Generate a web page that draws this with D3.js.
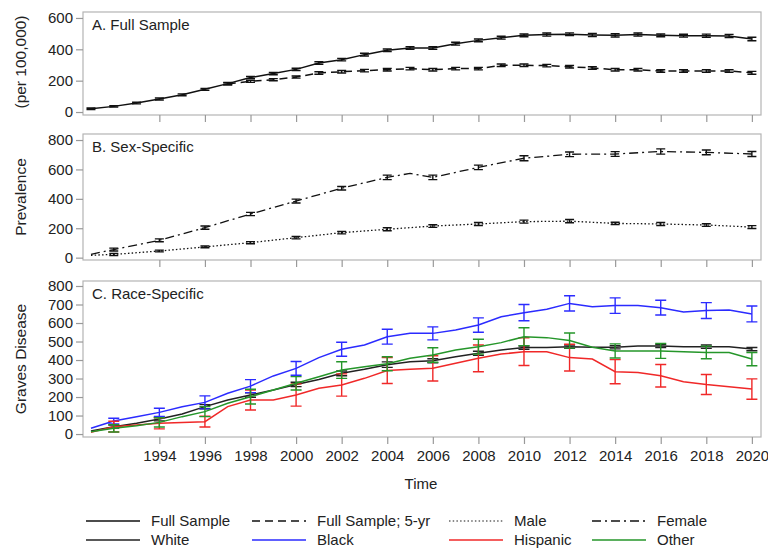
<!DOCTYPE html>
<html>
<head>
<meta charset="utf-8">
<script src="https://cdn.jsdelivr.net/npm/d3@7"></script>
<style>
  body { margin: 0; background: #fff; }
  svg { font-family: "Liberation Sans", Arial, sans-serif; }
</style>
</head>
<body>
<div id="chart"></div>
<script>
// Years (yearly points)
const years = [1991, 1992, 1993, 1994, 1995, 1996, 1997, 1998, 1999, 2000,
               2001, 2002, 2003, 2004, 2005, 2006, 2007, 2008, 2009, 2010,
               2011, 2012, 2013, 2014, 2015, 2016, 2017, 2018, 2019, 2020];
const xTicks = [1994, 1996, 1998, 2000, 2002, 2004, 2006, 2008, 2010, 2012, 2014, 2016, 2018, 2020];

// Panel A: full sample
const fullSample = [21, 36, 57, 83, 110, 145, 181, 220, 245, 272,
                    313, 334, 366, 394, 408, 408, 436, 457, 474, 489,
                    494, 496, 491, 489, 494, 489, 487, 487, 485, 466];
const fullSampleErr = [5, 5, 5, 6, 6, 6, 7, 7, 7, 7,
                       8, 8, 9, 8, 8, 8, 9, 9, 9, 9,
                       10, 9, 10, 10, 10, 9, 9, 10, 10, 11];
const fullSample5yr = [null, null, null, null, null, null, 180, 196, 206, 223,
                       249, 257, 264, 270, 277, 270, 277, 277, 298, 298,
                       296, 289, 281, 270, 270, 262, 262, 262, 262, 250];
const fullSample5yrErr = [null, null, null, null, null, null, 6, 7, 7, 7,
                          8, 8, 8, 8, 8, 8, 8, 8, 8, 8,
                          8, 8, 8, 8, 8, 8, 8, 8, 8, 9];

// Panel B: sex-specific
const female = [23, 55, null, 118, null, 204, null, 297, null, 385,
                null, 472, null, 546, 573, 546, null, 614, null, 676,
                null, 703, null, 705, null, 722, null, 716, null, 705];
const femaleErr = [null, 10, null, 10, null, 11, null, 11, null, 13,
                   null, 12, null, 15, null, 15, null, 15, null, 17,
                   null, 16, null, 16, null, 18, null, 16, null, 17];
const male = [16, 22, null, 45, null, 73, null, 102, null, 136,
              null, 170, null, 193, null, 215, null, 229, null, 245,
              null, 248, null, 233, null, 229, null, 222, null, 208];
const maleErr = [null, 7, null, 6, null, 6, null, 7, null, 8,
                 null, 8, null, 10, null, 9, null, 10, null, 10,
                 null, 11, null, 8, null, 10, null, 9, null, 10];

// Panel C: race-specific
const white = [16, 40, 58, 81, 108, 148, 184, 211, 238, 268,
               295, 328, 350, 375, 391, 396, 418, 436, 454, 467,
               467, 472, 469, 469, 476, 476, 472, 472, 472, 459];
const whiteErr = [null, 8, null, 10, null, 11, null, 12, null, 12,
                  null, 13, null, 15, null, 11, null, 11, null, 9,
                  null, 9, null, 9, null, 8, null, 9, null, 9];
const black = [31, 70, 94, 117, 148, 171, 220, 259, 314, 355,
               413, 458, 481, 526, 544, 544, 562, 589, 634, 656,
               674, 706, 688, 694, 694, 683, 659, 667, 670, 649];
const blackErr = [null, 15, null, 22, null, 35, null, 35, null, 37,
                  null, 38, null, 40, null, 35, null, 39, null, 44,
                  null, 41, null, 42, null, 40, null, 43, null, 43];
const hispanic = [9, 40, 49, 58, 63, 67, 148, 184, 184, 211,
                  247, 265, 301, 343, 350, 355, 382, 409, 432, 445,
                  445, 413, 405, 337, 332, 315, 283, 268, 256, 243];
const hispanicErr = [null, 29, null, 30, null, 29, null, 54, null, 60,
                     null, 60, null, 70, null, 68, null, 72, null, 75,
                     null, 72, null, 65, null, 61, null, 54, null, 55];
const other = [13, 31, 45, 63, 94, 121, 166, 202, 238, 274,
               310, 346, 364, 380, 409, 427, 454, 472, 494, 526,
               521, 505, 469, 449, 449, 449, 445, 441, 441, 405];
const otherErr = [null, 20, null, 25, null, 27, null, 40, null, 36,
                  null, 45, null, 38, null, 39, null, 40, null, 48,
                  null, 41, null, 38, null, 40, null, 34, null, 36];

const W = 768, H = 548;
const svg = d3.select("#chart").append("svg")
    .attr("width", W)
    .attr("height", H);

const x = d3.scaleLinear().domain([1990.65, 2020.4]).range([83, 761]);

// panel definitions
const panels = [
  {label: "A. Full Sample", top: 12, bottom: 115, domain: [-19, 638], ticks: [0, 200, 400, 600]},
  {label: "B. Sex-Specific", top: 134, bottom: 260, domain: [-16, 841], ticks: [0, 200, 400, 600, 800]},
  {label: "C. Race-Specific", top: 281, bottom: 437, domain: [-16, 827], ticks: [0, 100, 200, 300, 400, 500, 600, 700, 800]}
];

panels.forEach(p => {
  p.y = d3.scaleLinear().domain(p.domain).range([p.bottom, p.top]);

  // frame
  svg.append("rect")
      .attr("x", x.range()[0]).attr("y", p.top)
      .attr("width", x.range()[1] - x.range()[0])
      .attr("height", p.bottom - p.top)
      .attr("fill", "none")
      .attr("stroke", "#b4b4b4")
      .attr("stroke-width", 1.2);

  // y axis
  const gy = svg.append("g")
      .attr("transform", `translate(${x.range()[0]},0)`)
      .call(d3.axisLeft(p.y).tickValues(p.ticks).tickSize(7).tickPadding(3));
  gy.select(".domain").remove();
  gy.selectAll("line").attr("stroke", "#999").attr("stroke-width", 1.2);
  gy.selectAll("text").attr("fill", "#222").style("font-size", "15px");

  // x axis ticks
  const gx = svg.append("g")
      .attr("transform", `translate(0,${p.bottom})`)
      .call(d3.axisBottom(x).tickValues(xTicks).tickSize(7).tickPadding(6).tickFormat(d3.format("d")));
  gx.select(".domain").remove();
  gx.selectAll("line").attr("stroke", "#999").attr("stroke-width", 1.2);
  gx.selectAll("text").attr("fill", "#222").style("font-size", "15px");
  if (p.label[0] !== "C") gx.selectAll("text").remove();

  // panel label
  svg.append("text")
      .attr("x", 92).attr("y", p.top + 18)
      .attr("fill", "#222")
      .style("font-size", "15px")
      .text(p.label);
});

function points(vals, errs) {
  return years.map((yr, i) => ({yr, v: vals[i], e: errs ? errs[i] : null}))
      .filter(d => d.v != null);
}

function drawSeries(panel, vals, errs, color, dash, capW, sw) {
  const y = panel.y;
  const pts = points(vals, errs);
  const line = d3.line().x(d => x(d.yr)).y(d => y(d.v));
  svg.append("path")
      .datum(pts)
      .attr("d", line)
      .attr("fill", "none")
      .attr("stroke", color)
      .attr("stroke-width", sw)
      .attr("stroke-dasharray", dash);

  const eb = pts.filter(d => d.e != null);
  svg.append("g").selectAll("path")
      .data(eb)
      .join("path")
      .attr("d", d => {
        const cx = x(d.yr), y0 = y(d.v - d.e), y1 = y(d.v + d.e);
        return `M${cx},${y0}V${y1}M${cx - capW},${y0}H${cx + capW}M${cx - capW},${y1}H${cx + capW}`;
      })
      .attr("fill", "none")
      .attr("stroke", color)
      .attr("stroke-width", 1.4);
}

const [pA, pB, pC] = panels;

drawSeries(pA, fullSample, fullSampleErr, "#111", null, 4.5, 1.5);
drawSeries(pA, fullSample5yr, fullSample5yrErr, "#111", "8,5", 4.5, 1.5);

drawSeries(pB, female, femaleErr, "#111", "9,4,2,4", 4.5, 1.3);
drawSeries(pB, male, maleErr, "#111", "1.5,2.2", 4.5, 1.3);

drawSeries(pC, white, whiteErr, "#222", null, 5.5, 1.5);
drawSeries(pC, black, blackErr, "#2b2bff", null, 5.5, 1.5);
drawSeries(pC, hispanic, hispanicErr, "#f02828", null, 5.5, 1.5);
drawSeries(pC, other, otherErr, "#25962a", null, 5.5, 1.5);

// y axis title pieces
const yTitles = [
  {t: "(per 100,000)", cy: 62},
  {t: "Prevalence", cy: 197},
  {t: "Graves Disease", cy: 359}
];
svg.append("g").selectAll("text")
    .data(yTitles)
    .join("text")
    .attr("transform", d => `translate(26,${d.cy}) rotate(-90)`)
    .attr("text-anchor", "middle")
    .attr("fill", "#222")
    .style("font-size", "15.5px")
    .text(d => d.t);

// x axis title
svg.append("text")
    .attr("x", 421).attr("y", 489)
    .attr("text-anchor", "middle")
    .attr("fill", "#222")
    .style("font-size", "15px")
    .text("Time");

// legend
const legendItems = [
  {name: "Full Sample", color: "#111", dash: null, col: 0, row: 0},
  {name: "Full Sample; 5-yr", color: "#111", dash: "8,5", col: 1, row: 0},
  {name: "Male", color: "#666", dash: "1.5,2.2", col: 2, row: 0},
  {name: "Female", color: "#111", dash: "9,4,2,4", col: 3, row: 0},
  {name: "White", color: "#222", dash: null, col: 0, row: 1},
  {name: "Black", color: "#2b2bff", dash: null, col: 1, row: 1},
  {name: "Hispanic", color: "#f02828", dash: null, col: 2, row: 1},
  {name: "Other", color: "#25962a", dash: null, col: 3, row: 1}
];
const colX = [86, 252, 449, 592];
const rowY = [521, 540];
const lg = svg.append("g").selectAll("g")
    .data(legendItems)
    .join("g")
    .attr("transform", d => `translate(${colX[d.col]},${rowY[d.row]})`);
lg.append("line")
    .attr("x1", 0).attr("x2", 54)
    .attr("stroke", d => d.color)
    .attr("stroke-width", 1.6)
    .attr("stroke-dasharray", d => d.dash);
lg.append("text")
    .attr("x", 65).attr("y", 5)
    .attr("fill", "#222")
    .style("font-size", "15px")
    .text(d => d.name);
</script>
</body>
</html>
